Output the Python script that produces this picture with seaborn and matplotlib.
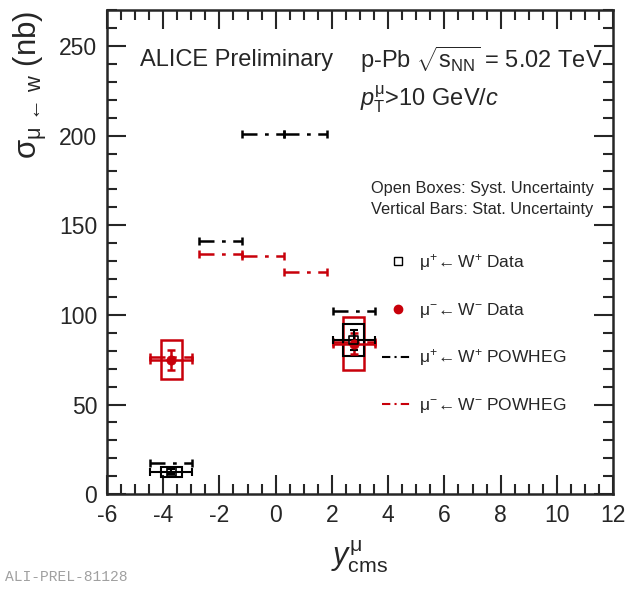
import matplotlib
matplotlib.use('Agg')
import matplotlib.pyplot as plt
import seaborn as sns
import pandas as pd
from matplotlib.patches import Rectangle
from matplotlib.lines import Line2D
from matplotlib.ticker import MultipleLocator

# measured points (backward, forward rapidity bins)
data_y = [-3.71, 2.78]
data_xerr = [0.75, 0.75]
box_half = 0.37
wplus_val = [12.5, 86.0]
wplus_stat = [1.5, 5.5]
wplus_syst = [2.8, 9.0]
wminus_val = [75.0, 84.0]
wminus_stat = [5.5, 6.0]
wminus_syst = [10.8, 15.0]

# POWHEG predictions
pow_y = [-3.71, -1.96, -0.45, 1.07, 2.78]
pow_xerr = [0.75, 0.77, 0.75, 0.76, 0.75]
pow_wplus = [17.5, 141.0, 201.0, 201.0, 102.0]
pow_wminus = [76.5, 134.0, 133.0, 124.0, 85.0]

RED = '#c8000a'

sns.set_style('ticks')
plt.rcParams['font.family'] = ['Liberation Sans', 'DejaVu Sans']
plt.rcParams['mathtext.fontset'] = 'custom'
plt.rcParams['mathtext.rm'] = 'Liberation Sans'
plt.rcParams['mathtext.it'] = 'Liberation Sans:italic'
plt.rcParams['mathtext.default'] = 'rm'
plt.rcParams['axes.unicode_minus'] = False

fig = plt.figure(figsize=(6.25, 5.94), dpi=100)
ax = fig.add_axes([0.171, 0.168, 0.81, 0.815])

def powheg(vals, color):
    c = ax.errorbar(pow_y, vals, xerr=pow_xerr, fmt='none', ecolor=color,
                    elinewidth=1.8, capsize=3, capthick=1.8)
    for lc in c.lines[2]:
        lc.set_linestyle((0, (6, 3, 1.5, 3)))

powheg(pow_wplus, 'black')
powheg(pow_wminus, RED)

# syst boxes
for y, v, s in zip(data_y, wminus_val, wminus_syst):
    ax.add_patch(Rectangle((y - box_half, v - s), 2 * box_half, 2 * s,
                           fill=False, edgecolor=RED, lw=1.8, zorder=3))
for y, v, s in zip(data_y, wplus_val, wplus_syst):
    ax.add_patch(Rectangle((y - box_half, v - s), 2 * box_half, 2 * s,
                           fill=False, edgecolor='black', lw=1.5, zorder=4))

# stat bars
ax.errorbar(data_y, wminus_val, xerr=data_xerr, yerr=wminus_stat, fmt='none',
            ecolor=RED, elinewidth=1.8, capsize=3, capthick=1.8, zorder=5)
ax.errorbar(data_y, wplus_val, xerr=data_xerr, yerr=wplus_stat, fmt='none',
            ecolor='black', elinewidth=1.5, capsize=3, capthick=1.5, zorder=6)

df_m = pd.DataFrame({'y': data_y, 'sigma': wminus_val})
df_p = pd.DataFrame({'y': data_y, 'sigma': wplus_val})
sns.scatterplot(data=df_m, x='y', y='sigma', ax=ax, color=RED, marker='o',
                s=45, edgecolor=RED, zorder=7, legend=False)
sns.scatterplot(data=df_p, x='y', y='sigma', ax=ax, marker='s', s=40,
                facecolor='none', edgecolor='black', linewidth=1.2, zorder=8, legend=False)

ax.set_xlim(-6, 12)
ax.set_ylim(0, 270)
ax.xaxis.set_major_locator(MultipleLocator(2))
ax.xaxis.set_minor_locator(MultipleLocator(0.5))
ax.yaxis.set_major_locator(MultipleLocator(50))
ax.yaxis.set_minor_locator(MultipleLocator(10))
ax.tick_params(which='both', direction='in', top=True, right=True, width=1.5,
               labelsize=16.5, pad=7)
ax.tick_params(which='major', length=14)
ax.tick_params(which='minor', length=7)
for sp in ax.spines.values():
    sp.set_linewidth(1.8)
    sp.set_visible(True)

ax.set_xlabel(r'$\mathit{y}^{\mu}_{\mathrm{cms}}$', fontsize=22, labelpad=8)
ax.set_ylabel(r'$\sigma_{\mu\,\leftarrow\,\mathrm{w}}$ (nb)', fontsize=22.5, loc='top')
ax.yaxis.set_label_coords(-0.115, 1.0)

ax.text(0.065, 0.897, 'ALICE Preliminary', transform=ax.transAxes, fontsize=17, va='center')
ax.text(0.5, 0.897, r'p-Pb $\sqrt{s_{\mathrm{NN}}}$ = 5.02 TeV', transform=ax.transAxes,
        fontsize=17, va='center')
ax.text(0.5, 0.815, r'$\mathit{p}_{\mathrm{T}}^{\mu}$>10 GeV/$\mathit{c}$', transform=ax.transAxes,
        fontsize=17, va='center')

# legend: header lines + entries
empty = Line2D([], [], linestyle='none')
leg1 = ax.legend([empty, empty], ['Open Boxes: Syst. Uncertainty', 'Vertical Bars: Stat. Uncertainty'],
                 loc='upper right', bbox_to_anchor=(0.975, 0.66), frameon=False,
                 handlelength=0, handletextpad=0, fontsize=11.8, labelspacing=0.35,
                 borderaxespad=0)
ax.add_artist(leg1)
handles = [
    Line2D([], [], linestyle='none', marker='s', markersize=6, markerfacecolor='none',
           markeredgecolor='black'),
    Line2D([], [], linestyle='none', marker='o', markersize=6, color=RED),
    Line2D([], [], color='black', lw=1.5, linestyle=(0, (4, 2, 1, 2))),
    Line2D([], [], color=RED, lw=1.5, linestyle=(0, (4, 2, 1, 2))),
]
labels = [r'$\mu^{+}\!\leftarrow$W$^{+}$ Data', r'$\mu^{-}\!\leftarrow$W$^{-}$ Data',
          r'$\mu^{+}\!\leftarrow$W$^{+}$ POWHEG', r'$\mu^{-}\!\leftarrow$W$^{-}$ POWHEG']
ax.legend(handles, labels, loc='upper left', bbox_to_anchor=(0.53, 0.515), frameon=False,
          fontsize=12.5, labelspacing=1.6, handlelength=1.8, handletextpad=0.3,
          borderaxespad=0)

fig.text(0.008, 0.022, 'ALI-PREL-81128', family='Liberation Mono', color='#a0a0a0', fontsize=10.5)

fig.savefig('out.png', dpi=100)
